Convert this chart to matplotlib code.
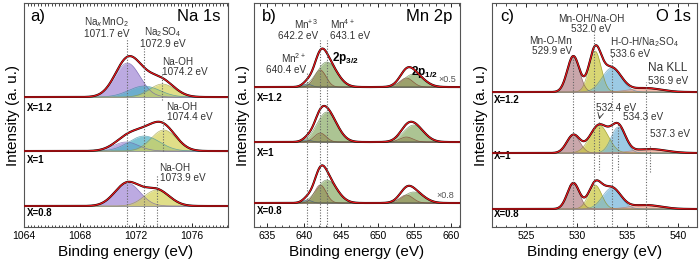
import numpy as np
import matplotlib
matplotlib.use('Agg')
import matplotlib.pyplot as plt
from matplotlib.ticker import MultipleLocator

plt.rcParams['font.family'] = ['Liberation Sans', 'DejaVu Sans']
plt.rcParams['mathtext.fontset'] = 'custom'
plt.rcParams['mathtext.rm'] = 'Liberation Sans'
plt.rcParams['mathtext.bf'] = 'Liberation Sans:bold'

samples = ['X=1.2', 'X=1', 'X=0.8']

# ---- Na 1s: components NaxMnO2, Na2SO4, Na-OH (peak positions as drawn)
na_offsets = [130, 76, 21]
na_centers = [[1071.4, 1072.6, 1073.9],
              [1071.3, 1072.6, 1074.0],
              [1071.4, 1072.6, 1073.5]]
na_heights = [[34, 11, 13],
              [9, 15, 21],
              [23, 0, 16]]
na_sigmas = [0.9, 1.1, 0.9]
na_colors = ['#a28ad6', '#4fb0c6', '#d4d25a']
na_edges = ['#6a55a8', '#2f8aa0', '#9a9830']

# ---- Mn 2p: Mn2+, Mn3+, Mn4+ (2p3/2) and Mn3+, Mn4+ (2p1/2)
mn_offsets = [140, 85, 24]
mn_centers = [640.4, 642.2, 643.1, 653.9, 654.9]
mn_heights = [[3, 17, 25, 9, 13],
              [2, 9, 30, 5, 17],
              [3, 18, 23, 8, 11]]
mn_sigmas = [0.6, 0.8, 1.35, 0.9, 1.35]
mn_colors = ['#4d6fb0', '#b0513f', '#8cae6a', '#b0513f', '#8cae6a']
mn_edges = ['#2d4f90', '#7a3022', '#557a3e', '#7a3022', '#557a3e']

# ---- O 1s: Mn-O-Mn, Mn-OH/Na-OH, H-O-H/Na2SO4, Na KLL
o_offsets = [135, 74, 18]
o_centers = [[529.65, 531.8, 533.45, 536.8],
             [529.65, 532.2, 534.1, 537.2],
             [529.65, 531.8, 533.45, 536.8]]
o_heights = [[36, 41, 24, 4],
             [18, 28, 26, 4],
             [26, 24, 21, 4]]
o_sigmas = [[0.6, 0.6, 0.95, 1.5],
            [0.65, 0.9, 0.7, 1.6],
            [0.6, 0.65, 0.9, 1.5]]
o_colors = ['#b5858b', '#c9c73e', '#76b6da', '#f3a48f']
o_edges = ['#7d5055', '#8f8d18', '#3f86ad', '#c8705a']


def gauss(x, h, c, s):
    return h * np.exp(-(x - c) ** 2 / (2 * s ** 2))


def drawSpectrum(ax, x, base, comps, colors, edges):
    total = np.zeros_like(x)
    for (h, c, s), col, ec in zip(comps, colors, edges):
        if h <= 0:
            continue
        y = gauss(x, h, c, s)
        total += y
        ax.fill_between(x, base, base + y, color=col, alpha=0.72, lw=0)
        ax.plot(x, base + y, color=ec, lw=0.5, alpha=0.7)
    ax.axhline(base, color='#999999', lw=0.7, zorder=1)
    ax.plot(x, base + total, color='black', lw=1.5, zorder=3)
    ax.plot(x, base + total, color='#e8161b', lw=0.9, zorder=4)


fig = plt.figure(figsize=(7, 2.65), dpi=100)
axA = fig.add_axes([0.0343, 0.1434, 0.2914, 0.845])
axB = fig.add_axes([0.3629, 0.1434, 0.2943, 0.845])
axC = fig.add_axes([0.7029, 0.1434, 0.2929, 0.845])

limits = [(1064, 1078.6), (633.2, 661.2), (521.6, 541.9)]
for ax, lim in zip([axA, axB, axC], limits):
    ax.set_xlim(*lim)
    ax.set_ylim(0, 224)
    ax.set_yticks([])
    ax.set_ylabel('Intensity (a. u.)', fontsize=11, labelpad=3)
    ax.set_xlabel('Binding energy (eV)', fontsize=11, labelpad=3)
    ax.tick_params(axis='x', which='both', direction='in', top=True, labelsize=7.5, pad=3)
    ax.tick_params(axis='x', which='major', length=3, width=0.6)
    ax.tick_params(axis='x', which='minor', length=1.8, width=0.5)
    for sp in ax.spines.values():
        sp.set_color('#555555')
        sp.set_linewidth(0.8)

axA.xaxis.set_major_locator(MultipleLocator(4))
axA.xaxis.set_minor_locator(MultipleLocator(0.25))
axB.xaxis.set_major_locator(MultipleLocator(5))
axB.xaxis.set_minor_locator(MultipleLocator(1))
axC.xaxis.set_major_locator(MultipleLocator(5))
axC.xaxis.set_minor_locator(MultipleLocator(1))

dot = dict(color='#666666', lw=0.8, ls=(0, (1, 1.5)), zorder=5)
lab = dict(fontsize=7.2, color='#333333', linespacing=1.1)

# ---------- panel a
xa = np.linspace(1064, 1078.6, 600)
for i in range(3):
    comps = list(zip(na_heights[i], na_centers[i], na_sigmas))
    drawSpectrum(axA, xa, na_offsets[i], comps, na_colors, na_edges)
axA.text(0.03, 0.975, 'a)', transform=axA.transAxes, fontsize=12, va='top')
axA.text(0.965, 0.975, 'Na 1s', transform=axA.transAxes, fontsize=12, va='top', ha='right')
axA.plot([1071.4, 1071.4], [0, 189], **dot)
axA.plot([1072.6, 1072.6], [0, 179], **dot)
axA.plot([1073.85, 1073.85], [127, 155], **dot)
axA.plot([1073.95, 1073.95], [76, 107], **dot)
axA.plot([1073.5, 1073.5], [0, 52], **dot)
axA.text(1069.9, 200, 'Na$_x$MnO$_2$\n1071.7 eV', ha='center', va='center', **lab)
axA.text(1073.9, 190, 'Na$_2$SO$_4$\n1072.9 eV', ha='center', va='center', **lab)
axA.text(1073.9, 160, 'Na-OH\n1074.2 eV', ha='left', va='center', **lab)
axA.text(1074.2, 115, 'Na-OH\n1074.4 eV', ha='left', va='center', **lab)
axA.text(1073.7, 54, 'Na-OH\n1073.9 eV', ha='left', va='center', **lab)
for s, yy in zip(samples, [119, 67, 14]):
    axA.text(1064.2, yy, s, fontsize=7, fontweight='bold', va='center')

# ---------- panel b
xb = np.linspace(633.2, 661.2, 800)
for i in range(3):
    comps = list(zip(mn_heights[i], mn_centers, mn_sigmas))
    drawSpectrum(axB, xb, mn_offsets[i], comps, mn_colors, mn_edges)
axB.text(0.04, 0.975, 'b)', transform=axB.transAxes, fontsize=12, va='top')
axB.text(0.965, 0.975, 'Mn 2p', transform=axB.transAxes, fontsize=12, va='top', ha='right')
axB.plot([640.4, 640.4], [0, 154], **dot)
axB.plot([642.2, 642.2], [0, 187], **dot)
axB.plot([643.1, 643.1], [0, 187], **dot)
axB.text(641.9, 198, 'Mn$^{+3}$\n642.2 eV', ha='right', va='center', **lab)
axB.text(643.5, 198, 'Mn$^{4+}$\n643.1 eV', ha='left', va='center', **lab)
axB.text(640.3, 164, 'Mn$^{2+}$\n640.4 eV', ha='right', va='center', **lab)
axB.text(643.8, 169, r'$\mathbf{2p_{3/2}}$', fontsize=8.5, va='center')
axB.text(654.6, 155, r'$\mathbf{2p_{1/2}}$', fontsize=8.5, va='center')
axB.text(658.2, 148, '×0.5', fontsize=6.5, color='#555555', va='center')
axB.text(658.0, 32, '×0.8', fontsize=6.5, color='#555555', va='center')
for s, yy in zip(samples, [129, 74, 16]):
    axB.text(633.6, yy, s, fontsize=7, fontweight='bold', va='center')

# ---------- panel c
xc = np.linspace(521.6, 541.9, 700)
for i in range(3):
    comps = list(zip(o_heights[i], o_centers[i], o_sigmas[i]))
    drawSpectrum(axC, xc, o_offsets[i], comps, o_colors, o_edges)
axC.text(0.04, 0.975, 'c)', transform=axC.transAxes, fontsize=12, va='top')
axC.text(0.97, 0.975, 'O 1s', transform=axC.transAxes, fontsize=12, va='top', ha='right')
axC.plot([529.65, 529.65], [0, 172], **dot)
axC.plot([531.7, 531.7], [0, 195], **dot)
axC.plot([533.45, 533.45], [0, 172], **dot)
axC.plot([536.8, 536.8], [0, 145], **dot)
axC.plot([532.2, 532.2], [57, 105], **dot)
axC.plot([534.1, 534.1], [57, 103], **dot)
axC.plot([537.25, 537.25], [55, 82], **dot)
axC.text(529.5, 181, 'Mn-O-Mn\n529.9 eV', ha='right', va='center', **lab)
axC.text(531.4, 203, 'Mn-OH/Na-OH\n532.0 eV', ha='center', va='center', **lab)
axC.text(533.3, 180, 'H-O-H/Na$_2$SO$_4$\n533.6 eV', ha='left', va='center', **lab)
axC.text(537.05, 159, 'Na KLL', ha='left', va='center', fontsize=8.5, color='#333333')
axC.text(537.05, 146, '536.9 eV', ha='left', va='center', **lab)
axC.text(531.9, 119, '532.4 eV', ha='left', va='center', **lab)
axC.text(534.6, 110, '534.3 eV', ha='left', va='center', **lab)
axC.text(537.2, 93, '537.3 eV', ha='left', va='center', **lab)
axC.annotate('', xy=(532.15, 105), xytext=(532.35, 114),
             arrowprops=dict(arrowstyle='->', lw=0.6, color='#333333'))
for s, yy in zip(samples, [127, 71, 13]):
    axC.text(521.8, yy, s, fontsize=7, fontweight='bold', va='center')

fig.savefig('out.png', dpi=100)
